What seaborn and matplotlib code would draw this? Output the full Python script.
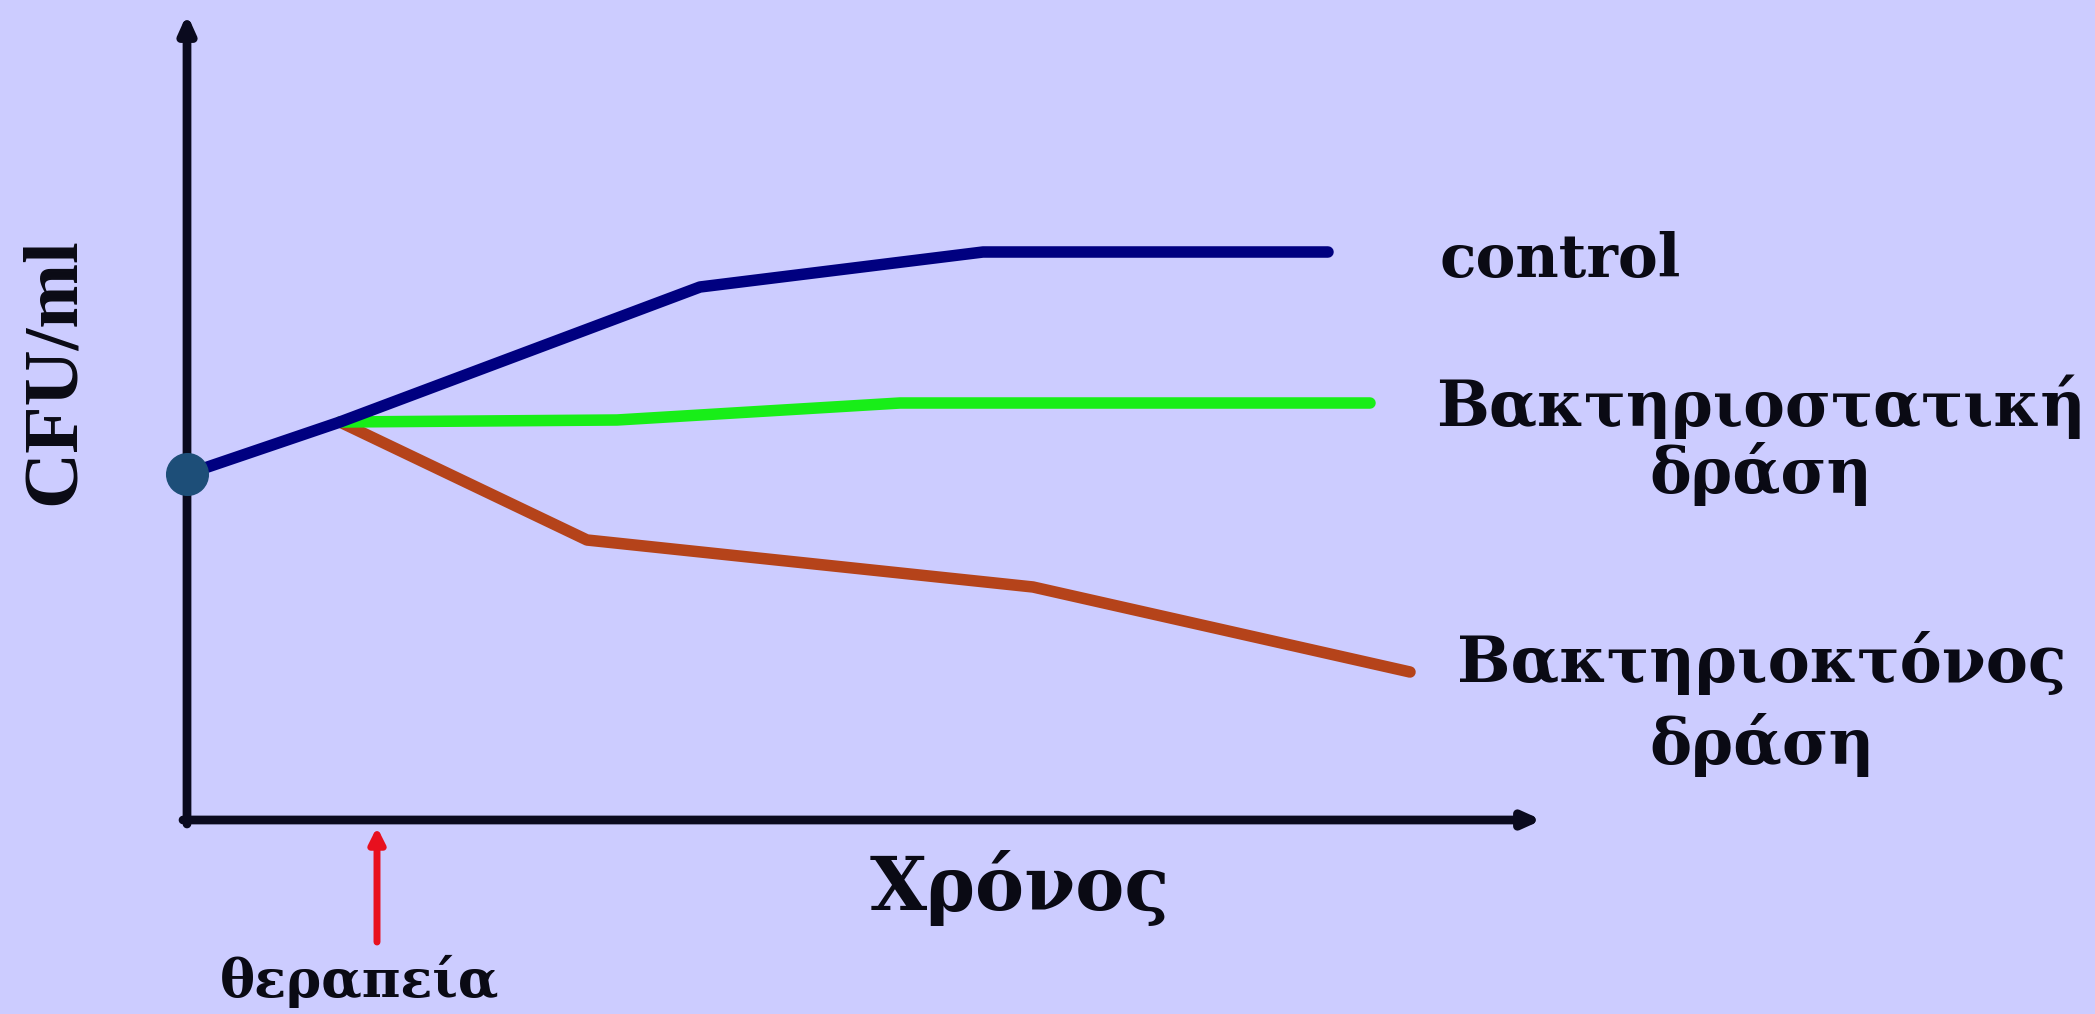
import matplotlib
matplotlib.use("Agg")
import matplotlib.pyplot as plt
import seaborn as sns
import pandas as pd

# ---- data (arbitrary time / CFU units) ----
control_t = [0.0, 1.53, 5.13, 7.96, 11.41]
control_v = [3.46, 3.98, 5.33, 5.68, 5.68]
static_t = [1.53, 4.30, 7.13, 11.83]
static_v = [3.98, 4.00, 4.17, 4.17]
cidal_t = [1.53, 4.00, 8.46, 12.23]
cidal_v = [3.98, 2.80, 2.33, 1.48]
start_t, start_v = 0.0, 3.46
therapy_t = 1.90

series_names = ["control", "Βακτηριοστατική\nδράση", "Βακτηριοκτόνος\nδράση"]
series_colors = ["#000080", "#18EE18", "#B5431A"]
x_label = "Χρόνος"
y_label = "CFU/ml"
therapy_label = "θεραπεία"

BG = "#CCCCFF"
sns.set_style("white", {"axes.facecolor": BG, "figure.facecolor": BG})
plt.rcParams["font.family"] = ["DejaVu Serif"]

df = pd.concat([
    pd.DataFrame({"t": control_t, "v": control_v, "s": series_names[0]}),
    pd.DataFrame({"t": static_t, "v": static_v, "s": series_names[1]}),
    pd.DataFrame({"t": cidal_t, "v": cidal_v, "s": series_names[2]}),
], ignore_index=True)

fig = plt.figure(figsize=(20.95, 10.14), dpi=100)
ax = fig.add_axes([0, 0, 1, 1])
ax.set_xlim(-1.87, 19.08)
ax.set_ylim(-1.94, 8.20)
ax.axis("off")

# axes with arrows
ap = dict(arrowstyle="-|>,head_length=1.0,head_width=0.45", color="#0a0a1e", lw=6.3,
          shrinkA=0, shrinkB=0)
ax.annotate("", xy=(13.55, 0), xytext=(-0.04, 0), arrowprops=ap)
ax.annotate("", xy=(0, 8.06), xytext=(0, -0.04), arrowprops=ap)

# lines: draw brown & green first, blue on top
order = [series_names[2], series_names[1], series_names[0]]
for name in order:
    sub = df[df["s"] == name]
    sns.lineplot(data=sub, x="t", y="v", sort=False, ax=ax,
                 color=series_colors[series_names.index(name)], lw=8.3,
                 solid_capstyle="round", solid_joinstyle="round", legend=False)

ax.plot([start_t], [start_v], "o", ms=30, color="#1D4E78", zorder=5)

# treatment arrow
ax.annotate("", xy=(therapy_t, -0.07), xytext=(therapy_t, -1.22),
            arrowprops=dict(arrowstyle="-|>,head_length=0.9,head_width=0.45",
                            color="#E8101E", lw=5, shrinkA=0, shrinkB=0))

# texts
TXT = "#0a0a14"
ax.text(12.52, 5.43, series_names[0], fontsize=43, fontweight="bold",
        ha="left", va="baseline", color=TXT)
ax.text(15.74, 3.80, series_names[1], fontsize=45, fontweight="bold",
        ha="center", va="center", multialignment="center", color=TXT,
        linespacing=1.05)
ax.text(15.75, 1.16, series_names[2], fontsize=45.5, fontweight="bold",
        ha="center", va="center", multialignment="center", color=TXT,
        linespacing=1.35)
ax.text(8.33, -0.90, x_label, fontsize=53, fontweight="bold",
        ha="center", va="baseline", color=TXT)
ax.text(1.73, -1.77, therapy_label, fontsize=38, fontweight="bold",
        ha="center", va="baseline", color=TXT)
ax.text(-1.32, 4.49, y_label, fontsize=56, fontweight="bold", rotation=90,
        ha="center", va="center", color=TXT, family="Liberation Serif")

fig.savefig("out.png", dpi=100, facecolor=BG)
